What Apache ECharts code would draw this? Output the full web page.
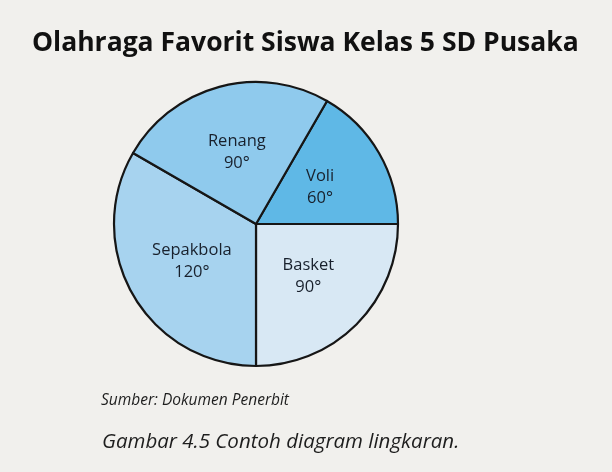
<!DOCTYPE html>
<html><head><meta charset="utf-8">
<script src="https://cdn.jsdelivr.net/npm/echarts@6/dist/echarts.min.js"></script>
<style>html,body{margin:0;padding:0;background:#f1f0ed;}#c{width:612px;height:472px;}</style>
</head><body><div id="c"></div>
<script>
const categories = ['Voli', 'Basket', 'Sepakbola', 'Renang'];
const degrees = [60, 90, 120, 90];
const colors = ['#5fb8e6', '#d8e8f4', '#a7d3ef', '#8fcaed'];
const titleText = 'Olahraga Favorit Siswa Kelas 5 SD Pusaka';
const sourceText = 'Sumber: Dokumen Penerbit';
const captionText = 'Gambar 4.5 Contoh diagram lingkaran.';

const chart = echarts.init(document.getElementById('c'), null, {renderer: 'canvas'});
chart.setOption({
  backgroundColor: '#f1f0ed',
  animation: false,
  title: [
    {text: titleText, left: 27, top: 25,
     textStyle: {fontFamily: 'Open Sans', fontWeight: 'bold', fontSize: 26.5, color: '#111111'}},
    {text: sourceText, left: 96, top: 388,
     textStyle: {fontFamily: 'Open Sans', fontStyle: 'italic', fontWeight: 'normal', fontSize: 15.5, color: '#1e1e1e'}},
    {text: captionText, left: 97, top: 427,
     textStyle: {fontFamily: 'Open Sans', fontStyle: 'italic', fontWeight: 'normal', fontSize: 20.5, color: '#1e1e1e'}}
  ],
  series: [{
    type: 'pie',
    center: [256, 224],
    radius: [0, 142],
    startAngle: 60,
    clockwise: true,
    silent: true,
    label: {
      show: true, position: 'inside',
      formatter: p => p.name + '\n' + p.value + '°',
      fontFamily: 'Open Sans', fontSize: 16.5, lineHeight: 22, color: '#18202c'
    },
    labelLine: {show: false},
    itemStyle: {borderColor: '#161616', borderWidth: 2.2},
    data: categories.map((c, i) => ({name: c, value: degrees[i], itemStyle: {color: colors[i]}}))
  }]
});
</script></body></html>
